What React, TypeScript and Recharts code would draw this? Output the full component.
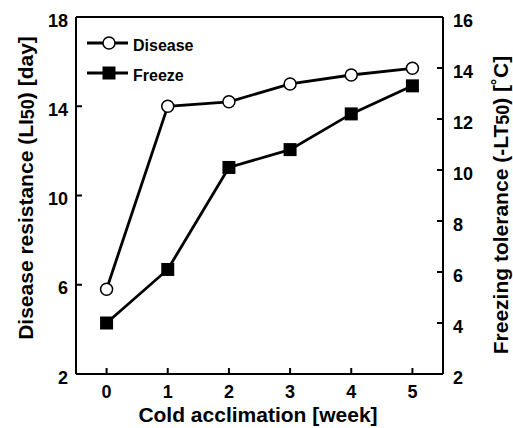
import { LineChart, Line, XAxis, YAxis, ReferenceLine, Legend } from "recharts";

const weeks = [0, 1, 2, 3, 4, 5];
const disease = [5.8, 14.0, 14.2, 15.0, 15.4, 15.7];
const freeze = [4.0, 6.1, 10.1, 10.8, 12.2, 13.3];

const leftTicks = [2, 6, 10, 14, 18];
const rightTicks = [2, 4, 6, 8, 10, 12, 14, 16];
const weekTicks = [0, 1, 2, 3, 4, 5];

const data = weeks.map((w, i) => ({ week: w, disease: disease[i], freeze: freeze[i] }));

const FONT = "'Liberation Sans', Arial, sans-serif";

const LeftTick = (props: any) => {
  const { x, y, payload } = props;
  return (
    <g>
      <line x1={x} x2={x + 6} y1={y} y2={y} stroke="#000" strokeWidth={2} />
      <text x={x - 8} y={y + 3.5} textAnchor="end" dominantBaseline="central" fontFamily={FONT} fontWeight="bold" fontSize={18} fill="#000">
        {payload.value}
      </text>
    </g>
  );
};

const RightTick = (props: any) => {
  const { x, y, payload } = props;
  return (
    <g>
      <line x1={x - 6} x2={x} y1={y} y2={y} stroke="#000" strokeWidth={2} />
      <text x={x + 10} y={y + 3.5} textAnchor="start" dominantBaseline="central" fontFamily={FONT} fontWeight="bold" fontSize={18} fill="#000">
        {payload.value}
      </text>
    </g>
  );
};

const BottomTick = (props: any) => {
  const { x, y, payload } = props;
  return (
    <g>
      <line x1={x} x2={x} y1={y - 6} y2={y} stroke="#000" strokeWidth={2} />
      <text x={x} y={y + 24} textAnchor="middle" fontFamily={FONT} fontWeight="bold" fontSize={18} fill="#000">
        {payload.value}
      </text>
    </g>
  );
};

const Square = (props: any) => {
  const { cx, cy, index } = props;
  return <rect key={"sq" + index} x={cx - 6.5} y={cy - 6.5} width={13} height={13} fill="#000" />;
};

const LegendBox = (props: any) => {
  const items = props.payload || [];
  return (
    <svg width={140} height={50} style={{ display: "block", overflow: "visible" }}>
      {items.map((it: any, i: number) => {
        const cy = 8 + i * 30;
        return (
          <g key={it.value}>
            <line x1={0} x2={41} y1={cy} y2={cy} stroke="#000" strokeWidth={2.8} />
            {i === 0 ? (
              <circle cx={22} cy={cy} r={6} fill="#fff" stroke="#000" strokeWidth={1.5} />
            ) : (
              <rect x={15.5} y={cy - 6.5} width={13} height={13} fill="#000" />
            )}
            <text x={46} y={cy + 2} dominantBaseline="central" fontFamily={FONT} fontWeight="bold" fontSize={16} fill="#000">
              {it.value}
            </text>
          </g>
        );
      })}
    </svg>
  );
};

const LeftTitle = () => (
  <text
    x={25}
    y={188}
    transform="rotate(-90 25 188)"
    textAnchor="middle"
    dominantBaseline="central"
    fontFamily={FONT}
    fontWeight="bold"
    fontSize={21}
    fill="#000"
  >
    Disease resistance (LI
    <tspan fontSize={18} dy={3}>50</tspan>
    <tspan dy={-3}>) [day]</tspan>
  </text>
);

const RightTitle = () => (
  <text
    x={500}
    y={205}
    transform="rotate(-90 500 205)"
    textAnchor="middle"
    dominantBaseline="central"
    fontFamily={FONT}
    fontWeight="bold"
    fontSize={21}
    fill="#000"
  >
    Freezing tolerance  (-LT
    <tspan fontSize={18} dy={3}>50</tspan>
    <tspan dy={-3}>) [˚C]</tspan>
  </text>
);

const BottomTitle = () => (
  <text x={258} y={422} textAnchor="middle" fontFamily={FONT} fontWeight="bold" fontSize={21} fill="#000">
    Cold acclimation [week]
  </text>
);

export default function App() {
  return (
    <div style={{ position: "absolute", left: 0, top: 0, background: "#fff" }}>
      <LineChart width={513} height={428} data={data} margin={{ top: 17, right: 0, bottom: 0, left: 0 }}>
        <XAxis
          dataKey="week"
          type="number"
          domain={[-0.5, 5.5]}
          ticks={weekTicks}
          height={54}
          tickSize={0}
          tickMargin={0}
          tickLine={false}
          axisLine={{ stroke: "#000", strokeWidth: 2 }}
          tick={BottomTick}
          label={<BottomTitle />}
        />
        <YAxis
          yAxisId="left"
          orientation="left"
          domain={[2, 18]}
          ticks={leftTicks}
          width={76}
          tickSize={0}
          tickMargin={0}
          tickLine={false}
          axisLine={{ stroke: "#000", strokeWidth: 2 }}
          tick={LeftTick}
          label={<LeftTitle />}
        />
        <YAxis
          yAxisId="right"
          orientation="right"
          domain={[2, 16]}
          ticks={rightTicks}
          width={70}
          tickSize={0}
          tickMargin={0}
          tickLine={false}
          axisLine={{ stroke: "#000", strokeWidth: 2 }}
          tick={RightTick}
          label={<RightTitle />}
        />
        <ReferenceLine yAxisId="left" y={18} stroke="#000" strokeWidth={2} />
        <Legend
          layout="horizontal"
          verticalAlign="middle"
          align="center"
          content={<LegendBox />}
          wrapperStyle={{ left: 87, top: 35, width: 140, height: 50 }}
        />
        <Line
          yAxisId="left"
          dataKey="disease"
          name="Disease"
          type="linear"
          stroke="#000"
          strokeWidth={2.8}
          dot={{ r: 6, fill: "#fff", stroke: "#000", strokeWidth: 1.5 }}
          isAnimationActive={false}
        />
        <Line
          yAxisId="right"
          dataKey="freeze"
          name="Freeze"
          type="linear"
          stroke="#000"
          strokeWidth={2.8}
          dot={Square}
          isAnimationActive={false}
        />
      </LineChart>
    </div>
  );
}
